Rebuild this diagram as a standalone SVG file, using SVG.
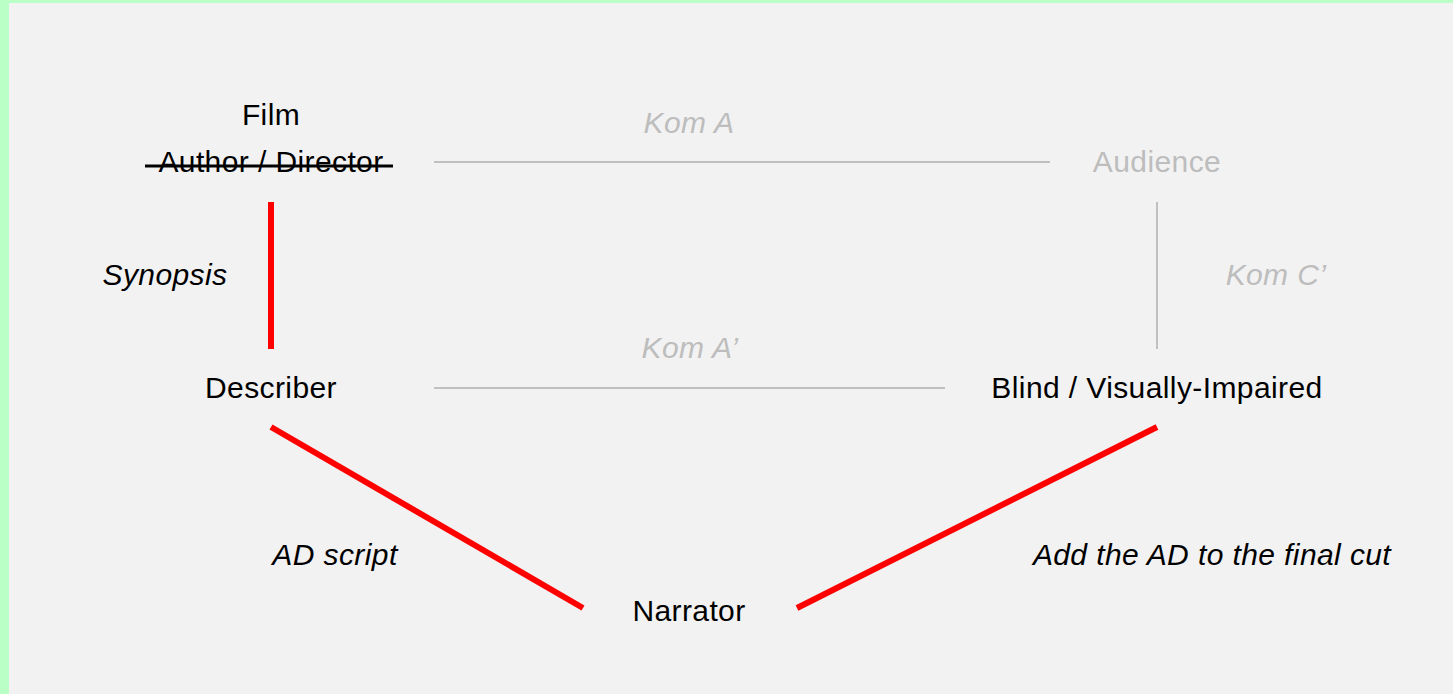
<svg xmlns="http://www.w3.org/2000/svg" width="1453" height="694" viewBox="0 0 1453 694">
<style>
text{font-family:"Liberation Sans",Arial,sans-serif;font-size:30px;letter-spacing:0.4px;text-anchor:middle}
.n{fill:#000}
.g{fill:#bdbdbd}
.i{font-style:italic}
.gl{stroke:#c0c0c0;stroke-width:2;fill:none}
.rl{stroke:#ff0000;stroke-width:6;fill:none}
</style>
<rect x="0" y="0" width="1453" height="694" fill="#b9ffc6"/>
<rect x="9" y="3" width="1444" height="691" fill="#f2f2f2"/>
<g id="connectors">
<line class="gl" x1="434" y1="162" x2="1050" y2="162"/>
<line class="gl" x1="434" y1="388" x2="945" y2="388"/>
<line class="gl" x1="1157" y1="202" x2="1157" y2="349"/>
<line class="rl" x1="271" y1="202" x2="271" y2="349"/>
<line class="rl" x1="271" y1="427" x2="583" y2="608"/>
<line class="rl" x1="797" y1="608" x2="1157" y2="427"/>
<text class="g i" x="689" y="133">Kom A</text>
<text class="g i" x="690" y="358">Kom A’</text>
<text class="g i" x="1276" y="285">Kom C’</text>
<text class="n i" x="165" y="285">Synopsis</text>
<text class="n i" x="335" y="565">AD script</text>
<text class="n i" x="1212" y="565">Add the AD to the final cut</text>
</g>
<g id="film">
<text class="n" x="271" y="125">Film</text>
<text class="n" x="271" y="172">Author / Director</text>
<line x1="145" y1="166" x2="393" y2="166" stroke="#000" stroke-width="3"/>
</g>
<g id="audience"><text class="g" x="1157" y="172">Audience</text></g>
<g id="describer"><text class="n" x="271" y="398">Describer</text></g>
<g id="blind"><text class="n" x="1157" y="398">Blind / Visually-Impaired</text></g>
<g id="narrator"><text class="n" x="689" y="621">Narrator</text></g>
</svg>
